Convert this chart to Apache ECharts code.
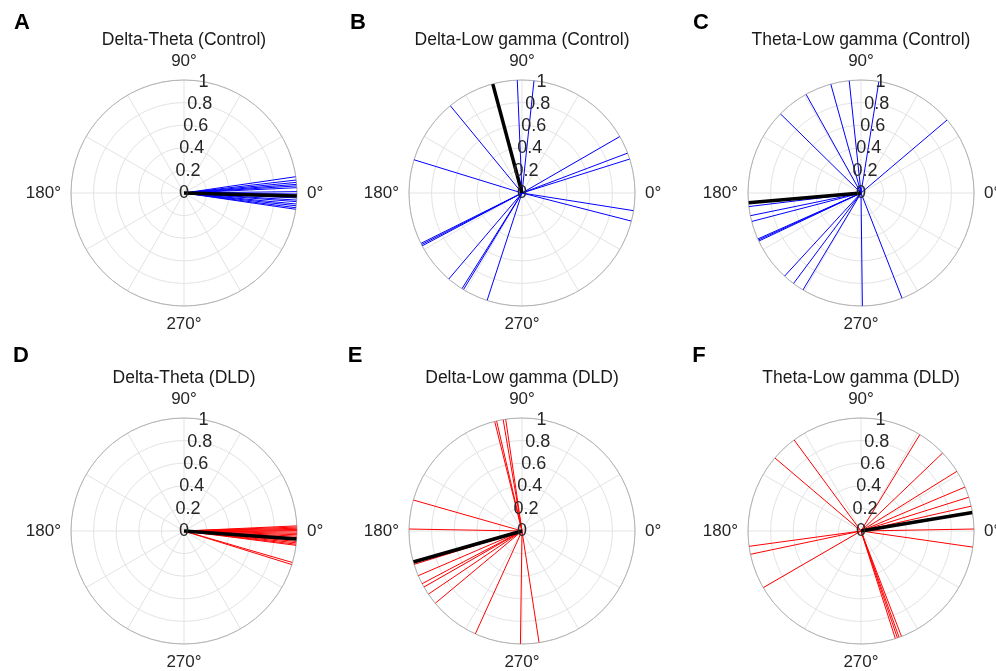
<!DOCTYPE html>
<html>
<head>
<meta charset="utf-8">
<script src="https://cdn.jsdelivr.net/npm/echarts@6/dist/echarts.min.js"></script>
<style>
  html, body { margin: 0; padding: 0; background: #fff; }
  #chart { width: 996px; height: 671px; }
</style>
</head>
<body>
<div id="chart"></div>
<script>
// Preferred phase angles (degrees) per participant, one array per panel
const deltaThetaControl = [8.3, 6.6, 5.4, 4.4, 3.6, 2.7, 0.7, -0.5, -2.5, -3.6, -4.4, -5.6, -6.5, -7.5, -8.3];
const deltaLowGammaControl = [92.4, 83.9, 129.4, 162.9, 30, 20.7, 17.5, -9, -14.4, 206.5, 207.2, 207.9, 229.6, 237.9, 238.8, 252];
const thetaLowGammaControl = [80.9, 96, 105.5, 119.1, 135.5, 40.3, 186.9, 191.6, 194.6, 204, 204.6, 205.2, 227.4, 233.3, 239.1, 270.7, 291.3];
const deltaThetaDLD = [2.6, 2.0, 1.4, 0.8, 0.2, -0.5, -1.2, -1.9, -2.6, -3.3, -4.5, -5.3, -6.0, -6.7, -7.3, -16.2, -17.3];
const deltaLowGammaDLD = [164.1, 179, 104, 103, 99.6, 98.3, 197.2, 203.3, 207.8, 209.7, 214, 219.8, 245.6, 269.2, 278.7];
const thetaLowGammaDLD = [58.6, 43.7, 31.9, 22.9, 17.4, 12.7, 1, -8.2, 126.3, 139.7, 187.8, 191.9, 210.1, 287.7, 288.8, 289.7, 291];

// Mean phase direction per panel (drawn as the thick black vector)
const meanControl = [-1.5, 105, 185];
const meanDLD = [-4.0, 195.9, 9.4];

// Axis ticks
const radiusTicks = [0, 0.2, 0.4, 0.6, 0.8, 1];
const angleTickLabels = [0, 90, 180, 270];

const panelTitles = [
  'Delta-Theta (Control)', 'Delta-Low gamma (Control)', 'Theta-Low gamma (Control)',
  'Delta-Theta (DLD)', 'Delta-Low gamma (DLD)', 'Theta-Low gamma (DLD)'
];
const panelLetters = ['A', 'B', 'C', 'D', 'E', 'F'];

const panels = [
  { angles: deltaThetaControl, mean: meanControl[0], color: '#0000ff' },
  { angles: deltaLowGammaControl, mean: meanControl[1], color: '#0000ff' },
  { angles: thetaLowGammaControl, mean: meanControl[2], color: '#0000ff' },
  { angles: deltaThetaDLD, mean: meanDLD[0], color: '#ff0000' },
  { angles: deltaLowGammaDLD, mean: meanDLD[1], color: '#ff0000' },
  { angles: thetaLowGammaDLD, mean: meanDLD[2], color: '#ff0000' }
];

// Layout
const centersX = [184, 522, 861];
const centersY = [193, 531];
const R = 113;
const FONT = '"Liberation Sans", Arial, Helvetica, sans-serif';
const letterPos = [[22, 23], [358, 23], [701, 23], [21, 356], [355, 356], [699, 356]];

const norm = a => ((a % 360) + 360) % 360;

const polar = [], angleAxis = [], radiusAxis = [], series = [], graphic = [];

panels.forEach((p, i) => {
  const cx = centersX[i % 3], cy = centersY[Math.floor(i / 3)];
  polar.push({ center: [cx, cy], radius: R });
  angleAxis.push({
    polarIndex: i, type: 'value', min: 0, max: 360, interval: 30,
    startAngle: 0, clockwise: false,
    axisLine: { show: true, lineStyle: { color: '#b3b3b3', width: 1 } },
    axisTick: { show: false },
    splitLine: { show: true, lineStyle: { color: '#e3e3e3', width: 1 } },
    axisLabel: {
      margin: 10, fontSize: 17, color: '#262626', fontFamily: FONT,
      formatter: v => angleTickLabels.includes(v) ? v + '°' : ''
    }
  });
  radiusAxis.push({
    polarIndex: i, type: 'value', min: 0, max: 1, interval: 0.2,
    axisLine: { show: false }, axisTick: { show: false }, axisLabel: { show: false },
    splitLine: { show: true, lineStyle: { color: '#e3e3e3', width: 1 } }
  });

  const data = [];
  p.angles.forEach(a => { data.push([0, norm(a)], [1, norm(a)], '-'); });
  series.push({
    type: 'line', coordinateSystem: 'polar', polarIndex: i,
    data, symbol: 'none', connectNulls: false, silent: true, animation: false,
    lineStyle: { color: p.color, width: 1 }, z: 2
  });
  series.push({
    type: 'line', coordinateSystem: 'polar', polarIndex: i,
    data: [[0, norm(p.mean)], [1, norm(p.mean)]], symbol: 'none', silent: true, animation: false,
    lineStyle: { color: '#000000', width: 3.5 }, z: 3
  });

  graphic.push({
    type: 'text', x: cx, y: cy - 153,
    style: { text: panelTitles[i], fill: '#1a1a1a', font: '17.5px ' + FONT, textAlign: 'center', textVerticalAlign: 'middle' }
  });
  graphic.push({
    type: 'text', x: letterPos[i][0], y: letterPos[i][1],
    style: { text: panelLetters[i], fill: '#000', font: 'bold 22px ' + FONT, textAlign: 'center', textVerticalAlign: 'middle' }
  });
});

// Overlay polars carry the radial tick labels along the 80° direction
panels.forEach((p, i) => {
  const cx = centersX[i % 3], cy = centersY[Math.floor(i / 3)];
  const k = polar.length;
  polar.push({ center: [cx, cy], radius: R });
  angleAxis.push({ polarIndex: k, type: 'value', min: 0, max: 360, startAngle: 80, clockwise: false, show: false });
  radiusAxis.push({
    polarIndex: k, type: 'value', min: 0, max: 1, interval: 0.2, z: 4,
    axisLine: { show: false }, axisTick: { show: false }, splitLine: { show: false },
    axisLabel: {
      margin: 0, align: 'center', verticalAlign: 'middle', fontSize: 18, color: '#262626', fontFamily: FONT,
      formatter: v => radiusTicks.some(t => Math.abs(t - v) < 1e-9) ? String(+v.toFixed(1)) : ''
    }
  });
});

const chart = echarts.init(document.getElementById('chart'), null, { renderer: 'canvas' });
chart.setOption({
  animation: false,
  backgroundColor: '#ffffff',
  polar, angleAxis, radiusAxis, series, graphic
});
</script>
</body>
</html>
